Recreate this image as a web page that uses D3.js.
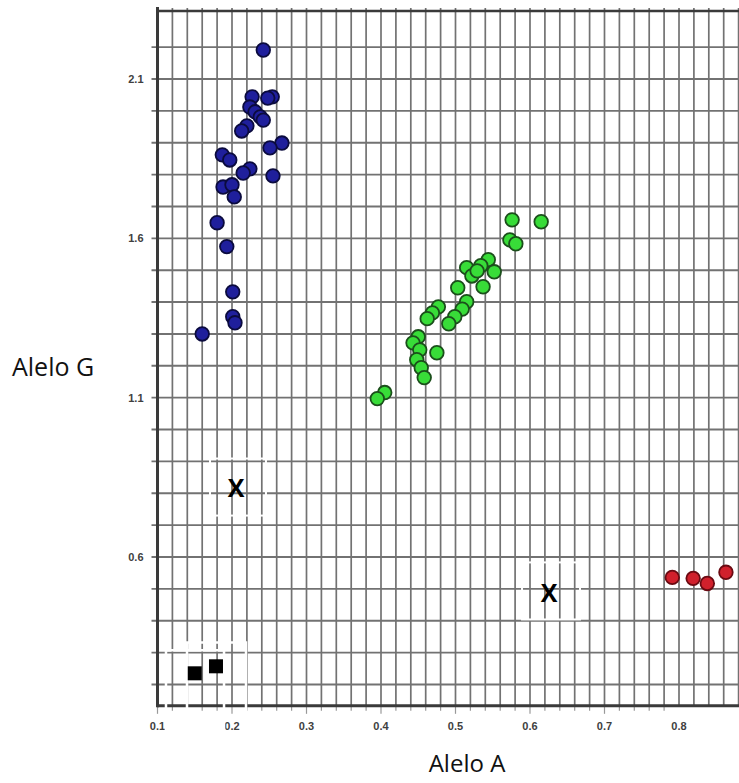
<!DOCTYPE html>
<html>
<head>
<meta charset="utf-8">
<script src="https://cdn.jsdelivr.net/npm/d3@7/dist/d3.min.js"></script>
<style>
  html, body { margin: 0; padding: 0; background: #fff; }
  svg { display: block; }
</style>
</head>
<body>
<svg id="chart" width="739" height="783"></svg>
<script>
// ---------------- DATA ----------------
const xTickLabels = ["0.1", "0.2", "0.3", "0.4", "0.5", "0.6", "0.7", "0.8"];
const yTickLabels = ["0.6", "1.1", "1.6", "2.1"];

// Allele G homozygotes (blue)
const blueX = [0.242, 0.254, 0.248, 0.227, 0.224, 0.231, 0.238, 0.242, 0.220, 0.213, 0.267, 0.251, 0.187, 0.197, 0.224, 0.215, 0.255, 0.188, 0.200, 0.203, 0.180, 0.193, 0.201, 0.201, 0.204, 0.160];
const blueY = [2.191, 2.044, 2.040, 2.044, 2.012, 1.997, 1.981, 1.971, 1.953, 1.937, 1.899, 1.884, 1.862, 1.846, 1.818, 1.805, 1.796, 1.761, 1.768, 1.730, 1.649, 1.574, 1.432, 1.354, 1.335, 1.300];

// Heterozygotes (green)
const greenX = [0.576, 0.615, 0.573, 0.581, 0.544, 0.534, 0.515, 0.522, 0.529, 0.552, 0.503, 0.537, 0.515, 0.509, 0.499, 0.491, 0.477, 0.469, 0.462, 0.450, 0.443, 0.452, 0.475, 0.448, 0.454, 0.458, 0.405, 0.395];
const greenY = [1.658, 1.652, 1.595, 1.583, 1.533, 1.514, 1.508, 1.482, 1.498, 1.495, 1.445, 1.448, 1.401, 1.378, 1.354, 1.332, 1.385, 1.366, 1.348, 1.291, 1.272, 1.250, 1.241, 1.219, 1.194, 1.163, 1.116, 1.097];

// Allele A homozygotes (red)
const redX = [0.791, 0.819, 0.838, 0.863];
const redY = [0.536, 0.533, 0.517, 0.552];

// No-template controls (black squares)
const ntcX = [0.150, 0.1785];
const ntcY = [0.235, 0.257];

// "X" annotations (empty clusters), with their white boxes: [x0, x1, y0, y1]
const markX = [0.2054, 0.6255];
const markY = [0.818, 0.486];
const markBoxes = [[0.1705, 0.2456, 0.730, 0.909], [0.5893, 0.6671, 0.404, 0.583]];
// white overlay frames near the controls: [x0, x1, yTop]
const ntcFrames = [[0.1114, 0.1893, 0.307], [0.1396, 0.2188, 0.332]];

// plot extents
const xDomain = [0.1, 0.881];
const yDomain = [0.133, 2.313];

// ---------------- CHART ----------------
const svg = d3.select("#chart");
const x = d3.scaleLinear().domain([0.1, 0.8]).range([157.5, 679]);
const y = d3.scaleLinear().domain([0.6, 2.1]).range([557, 79]);

const xL = x(xDomain[0]), xR = x(xDomain[1]);
const yB = y(yDomain[0]), yT = y(yDomain[1]);

const gridColor = "#727272";
const r5 = v => Math.round(v * 1000) / 1000;

// vertical grid lines every 0.02
const vGrid = d3.range(6, 45).map(i => r5(i * 0.02));
svg.append("g").selectAll("line").data(vGrid).join("line")
  .attr("x1", d => x(d)).attr("x2", d => x(d))
  .attr("y1", yT - 3).attr("y2", yB)
  .attr("stroke", gridColor).attr("stroke-width", 1.7);

// horizontal grid lines every 0.1
const hGrid = d3.range(2, 23).map(i => r5(i * 0.1));
svg.append("g").selectAll("line").data(hGrid).join("line")
  .attr("x1", xL - 6).attr("x2", xR)
  .attr("y1", d => y(d)).attr("y2", d => y(d))
  .attr("stroke", gridColor).attr("stroke-width", 1.9);

// minor ticks below x axis
svg.append("g").selectAll("line").data(d3.range(5, 40).map(i => r5(i * 0.02))).join("line")
  .attr("x1", d => x(d)).attr("x2", d => x(d))
  .attr("y1", yB).attr("y2", d => yB + (Math.abs(d * 10 - Math.round(d * 10)) < 1e-6 ? 8 : 5))
  .attr("stroke", "#999").attr("stroke-width", 1.2);

// frame: left axis, bottom axis, top border
svg.append("line").attr("x1", xL).attr("x2", xL).attr("y1", yT - 4).attr("y2", yB + 1.5)
  .attr("stroke", "#3a3a3a").attr("stroke-width", 3);
svg.append("line").attr("x1", xL).attr("x2", xR).attr("y1", yB).attr("y2", yB)
  .attr("stroke", "#3a3a3a").attr("stroke-width", 3);
svg.append("line").attr("x1", xL).attr("x2", xR).attr("y1", yT).attr("y2", yT)
  .attr("stroke", "#3a3a3a").attr("stroke-width", 2.5);

// y tick labels
svg.append("g").selectAll("text").data(yTickLabels).join("text")
  .attr("x", xL - 14).attr("y", d => y(+d)).attr("dy", "0.35em")
  .attr("text-anchor", "end")
  .attr("font-family", "Liberation Sans, Arial, sans-serif")
  .attr("font-size", 11).attr("font-weight", "bold").attr("fill", "#404040")
  .text(d => d);

// x tick labels
svg.append("g").selectAll("text").data(xTickLabels).join("text")
  .attr("x", d => x(+d)).attr("y", yB + 24)
  .attr("text-anchor", "middle")
  .attr("font-family", "Liberation Sans, Arial, sans-serif")
  .attr("font-size", 11).attr("font-weight", "bold").attr("fill", "#404040")
  .text(d => d);

// white overlay frames around controls
svg.append("g").selectAll("path").data(ntcFrames).join("path")
  .attr("d", d => `M${x(d[0])},${y(0.03)}V${y(d[2])}H${x(d[1])}V${y(0.03)}`)
  .attr("fill", "none").attr("stroke", "#fff").attr("stroke-width", 2.5);

// white boxes around X marks
svg.append("g").selectAll("rect").data(markBoxes).join("rect")
  .attr("x", d => x(d[0])).attr("y", d => y(d[3]))
  .attr("width", d => x(d[1]) - x(d[0])).attr("height", d => y(d[2]) - y(d[3]))
  .attr("fill", "none").attr("stroke", "#fff").attr("stroke-width", 2);

// X marks
svg.append("g").selectAll("text").data(markX).join("text")
  .attr("x", d => x(d)).attr("y", (d, i) => y(markY[i])).attr("dy", "0.36em")
  .attr("text-anchor", "middle")
  .attr("font-family", "Open Sans, Liberation Sans, sans-serif")
  .attr("font-size", 25).attr("font-weight", "bold").attr("fill", "#000")
  .text("X");

// points
function drawPoints(xs, ys, fill, stroke) {
  svg.append("g").selectAll("circle").data(xs).join("circle")
    .attr("cx", d => x(d)).attr("cy", (d, i) => y(ys[i]))
    .attr("r", 6.8)
    .attr("fill", fill).attr("stroke", stroke).attr("stroke-width", 1.8);
}
drawPoints(blueX, blueY, "#1f1f9c", "#0b0b3e");
drawPoints(greenX, greenY, "#38dc38", "#1b4f1b");
drawPoints(redX, redY, "#d0202c", "#6a0a12");

// controls (black squares)
const sq = 14;
svg.append("g").selectAll("rect").data(ntcX).join("rect")
  .attr("x", d => x(d) - sq / 2).attr("y", (d, i) => y(ntcY[i]) - sq / 2)
  .attr("width", sq).attr("height", sq).attr("fill", "#000");

// axis titles
svg.append("text").attr("x", 12).attr("y", 376)
  .attr("font-family", "Open Sans, sans-serif").attr("font-size", 25).attr("fill", "#111")
  .text("Alelo G");
svg.append("text").attr("x", 467).attr("y", 772).attr("text-anchor", "middle")
  .attr("font-family", "Open Sans, sans-serif").attr("font-size", 24).attr("fill", "#111")
  .text("Alelo A");
</script>
</body>
</html>
